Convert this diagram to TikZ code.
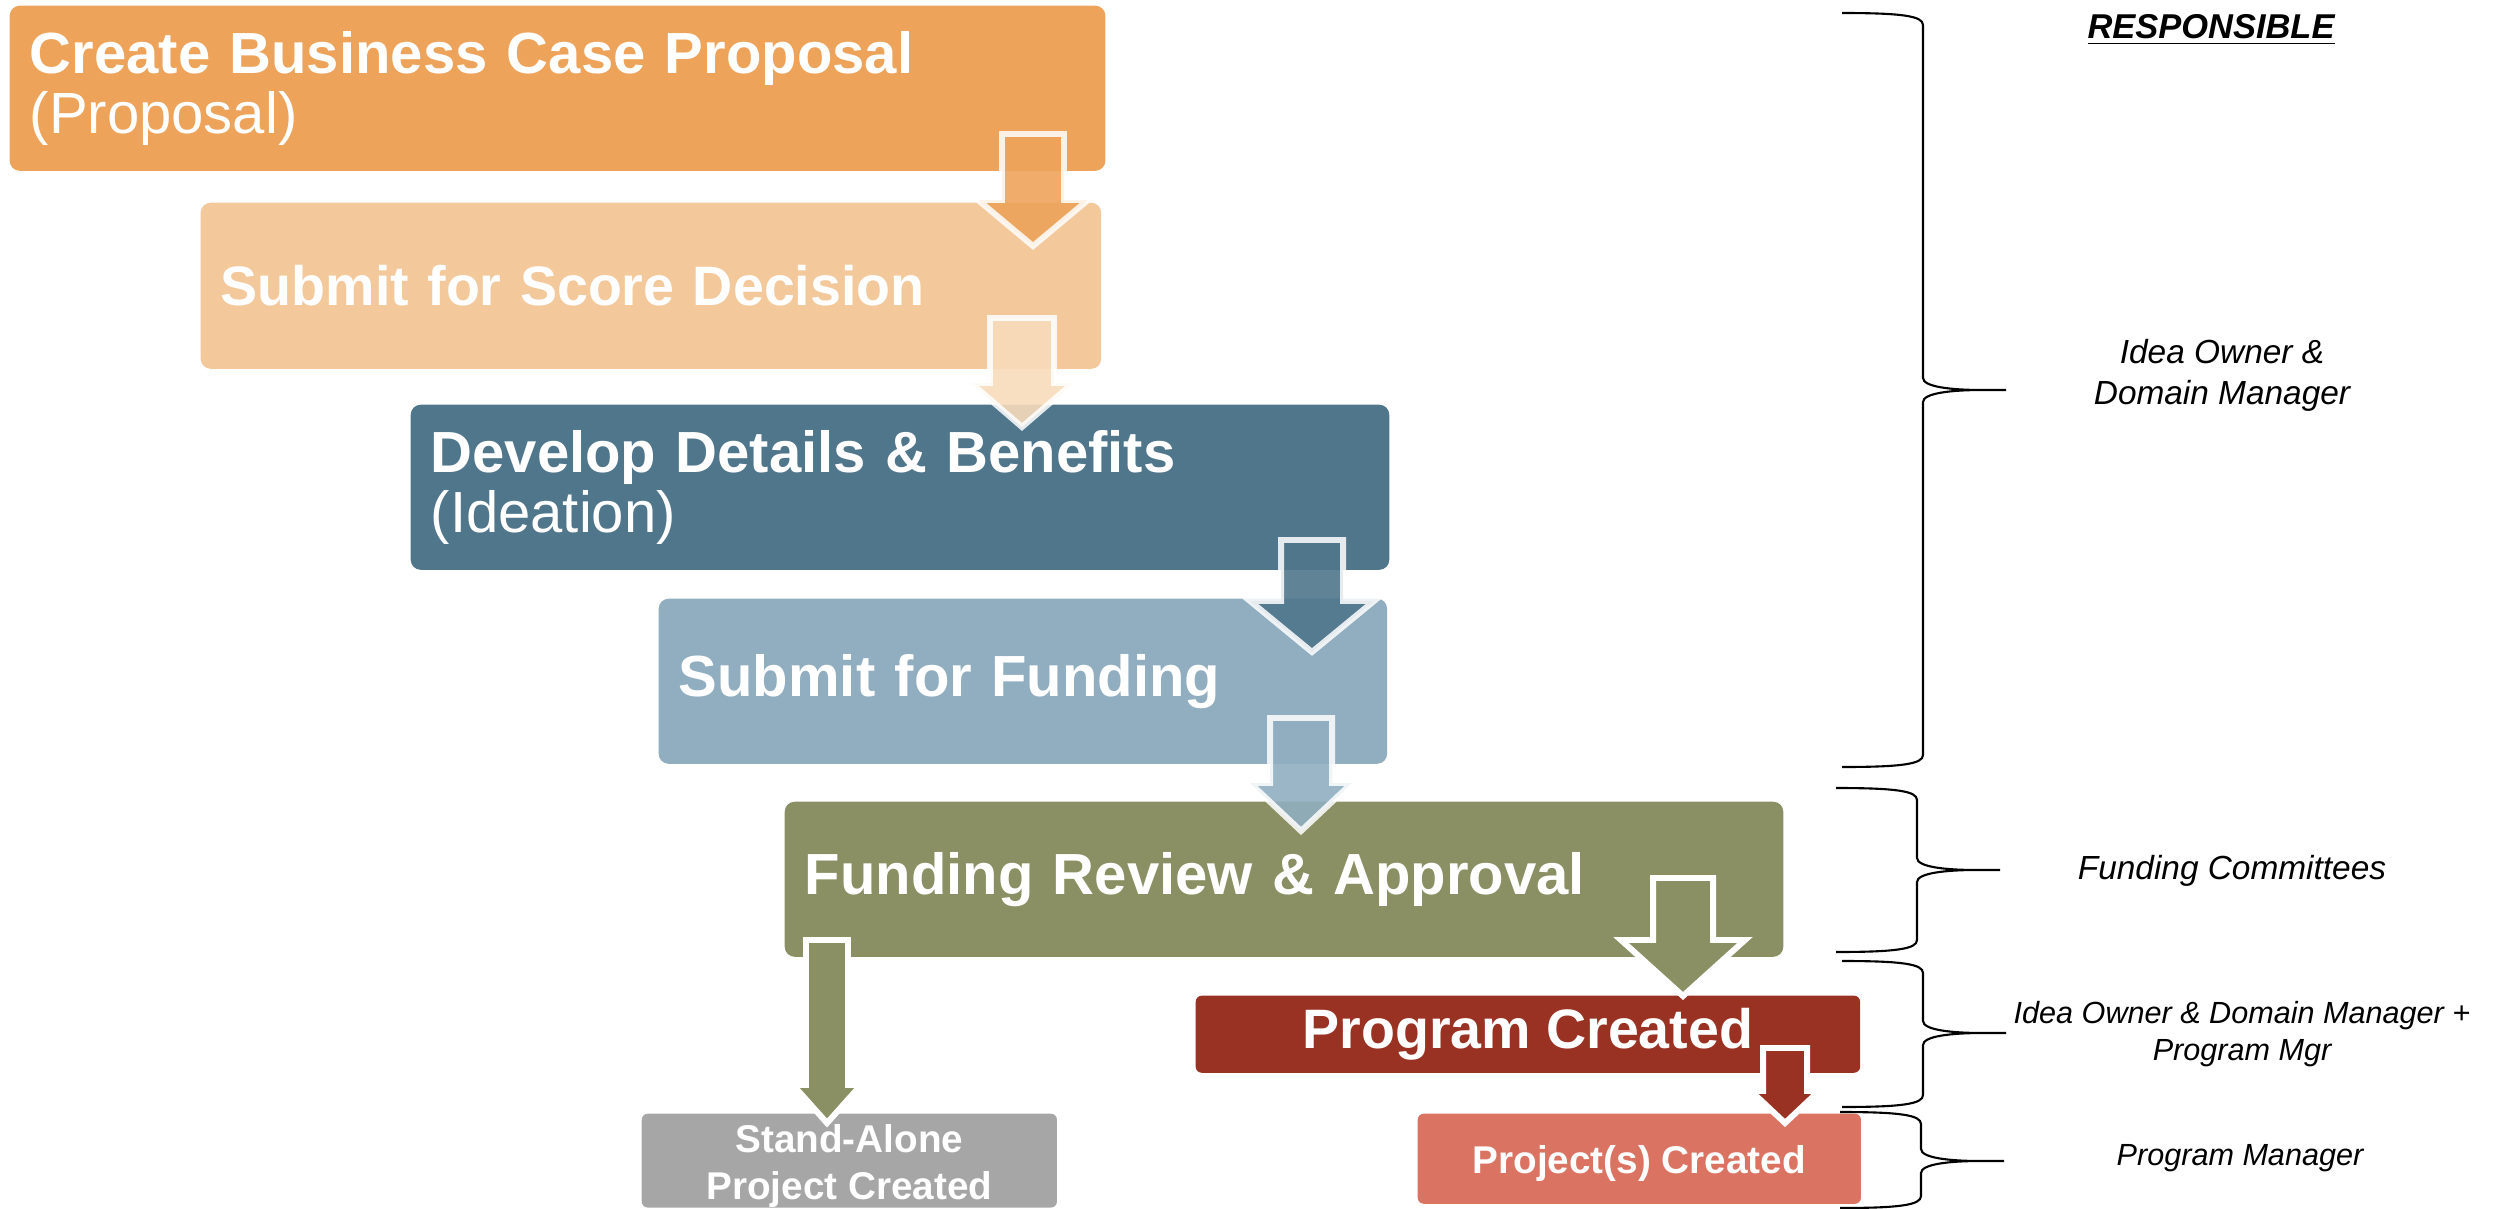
\documentclass[tikz,border=0pt]{standalone}
\usepackage{fontspec}
\setmainfont{Liberation Sans}
\usepackage{tikz}
\usetikzlibrary{calc}

\definecolor{proposalcol}{HTML}{EDA35A}
\definecolor{scorecol}{HTML}{F3C99C}
\definecolor{scorearrow}{HTML}{F8DBBB}
\definecolor{ideationcol}{HTML}{4F768B}
\definecolor{fundingcol}{HTML}{90AEC0}
\definecolor{reviewcol}{HTML}{8A9063}
\definecolor{programcol}{HTML}{9A3223}
\definecolor{standalonecol}{HTML}{A6A6A6}
\definecolor{projectcol}{HTML}{DB7362}

\tikzset{
    %Define style for boxes
    stage/.style={
        rectangle,
        rounded corners=0.1cm,
        anchor=north west,
        text=white,
        align=left,
        inner xsep=0.2cm,
        inner ysep=0pt,
        font=\fontsize{16.5}{17}\selectfont\bfseries,
    },
    outcome/.style={
        rectangle,
        rounded corners=0.06cm,
        anchor=north west,
        text=white,
        align=center,
        inner sep=0pt,
        font=\fontsize{11}{13.4}\selectfont\bfseries,
    },
    resp/.style={
        draw = none,
        align = center,
        font = \fontsize{9.5}{11.7}\selectfont\itshape,
    },
    bracket/.style={
        draw=black,
        line width=0.6pt,
    },
    fatarrow/.style={
        fill=#1,
        draw=white,
        line width=1.7pt,
    },
    faded/.style={
        fill opacity=0.9,
        draw opacity=0.85,
    },
}

% block arrow: top, tip, head length, shaft half width, head half width, style
\newcommand{\blockarr}[6]{%
  \path[#6] ($(#1)+(-#4,0)$) -- ($(#1)+(#4,0)$) -- ($(#2)+(#4,-#3)$)
    -- ($(#2)+(#5,-#3)$) -- (#2) -- ($(#2)+(-#5,-#3)$) -- ($(#2)+(-#4,-#3)$) -- cycle;
}

% curly bracket: left x, top y, bottom y, middle y
\newcommand{\respbrace}[4]{%
  \draw[bracket] (#1,#2) .. controls (#1+60,#2) and (#1+81,#2+3) .. (#1+81,#2+12)
    -- (#1+81,#4-12) .. controls (#1+81,#4-3) and (#1+110,#4) .. (#1+140,#4) -- (#1+164,#4)
    (#1+140,#4) .. controls (#1+110,#4) and (#1+81,#4+3) .. (#1+81,#4+12)
    -- (#1+81,#3-12) .. controls (#1+81,#3-3) and (#1+60,#3) .. (#1,#3);
}

\begin{document}
\begin{tikzpicture}[x=0.01cm,y=-0.01cm]
    \useasboundingbox (0,0) rectangle (2502,1209);

    % stages
    \node[stage, fill=proposalcol, minimum width=10.95cm, minimum height=1.65cm, text width=10.55cm] (proposal) at (9,5)
        {Create Business Case Proposal\\{\mdseries(Proposal)}};
    \node[stage, fill=scorecol, minimum width=9cm, minimum height=1.66cm, text width=8.6cm, font=\fontsize{15.8}{17}\selectfont\bfseries] (score) at (200,202)
        {Submit for Score Decision};
    \node[stage, fill=ideationcol, minimum width=9.78cm, minimum height=1.65cm, text width=9.38cm] (ideation) at (410,404)
        {Develop Details \& Benefits\\{\mdseries(Ideation)}};
    \node[stage, fill=fundingcol, minimum width=7.28cm, minimum height=1.65cm, text width=6.88cm] (funding) at (658,598)
        {Submit for Funding};
    \node[stage, fill=reviewcol, minimum width=9.98cm, minimum height=1.55cm, text width=9.58cm] (review) at (784,801)
        {Funding Review \& Approval};

    % outcomes
    \node[outcome, fill=programcol, minimum width=6.64cm, minimum height=0.77cm, font=\fontsize{15.8}{18}\selectfont\bfseries] (program) at (1195,995)
        {Program Created};
    \node[outcome, fill=standalonecol, minimum width=4.15cm, minimum height=0.91cm] (standalone) at (641,1113)
        {\rule{0pt}{11pt}Stand-Alone\\Project Created};
    \node[outcome, fill=projectcol, minimum width=4.43cm, minimum height=0.9cm] (projects) at (1417,1113)
        {\rule{0pt}{10.5pt}Project(s) Created};

    % arrows
    \coordinate (arr1top) at (1033,134);  \coordinate (arr1tip) at (1033,246);
    \coordinate (arr2top) at (1022,318);  \coordinate (arr2tip) at (1022,427);
    \coordinate (arr3top) at (1312,540);  \coordinate (arr3tip) at (1312,652);
    \coordinate (arr4top) at (1301,718);  \coordinate (arr4tip) at (1301,831);
    \coordinate (arr5top) at (1683,878);  \coordinate (arr5tip) at (1683,996);
    \coordinate (arr6top) at (827,940);   \coordinate (arr6tip) at (827,1123);
    \coordinate (arr7top) at (1785,1048); \coordinate (arr7tip) at (1785,1123);

    \blockarr{arr1top}{arr1tip}{46}{31}{55}{fatarrow=proposalcol, faded}
    \blockarr{arr2top}{arr2tip}{44}{32}{51}{fatarrow=scorearrow, faded}
    \blockarr{arr3top}{arr3tip}{51}{31}{62}{fatarrow=ideationcol, faded}
    \blockarr{arr4top}{arr4tip}{48}{31}{51}{fatarrow=fundingcol, faded}
    \blockarr{arr5top}{arr5tip}{56}{30}{62}{fatarrow=reviewcol}
    \blockarr{arr6top}{arr6tip}{38}{21}{34}{fatarrow=reviewcol}
    \blockarr{arr7top}{arr7tip}{32}{22}{34}{fatarrow=programcol}

    % responsibilities
    \respbrace{1842}{13}{767}{390}
    \respbrace{1836}{788}{952}{870}
    \respbrace{1842}{961}{1107}{1033}
    \respbrace{1840}{1112}{1208}{1161}

    \node[resp, anchor=base, font=\fontsize{9.8}{12}\selectfont\bfseries\itshape] (head) at (2211,38) {\underline{RESPONSIBLE}};
    \node[resp] (owner) at (2222,375) {Idea Owner \&\\Domain Manager};
    \node[resp] (committee) at (2232,871) {Funding Committees};
    \node[resp, font=\fontsize{8.7}{10.5}\selectfont\itshape] (programmgr) at (2242,1034) {Idea Owner \& Domain Manager +\\Program Mgr};
    \node[resp, font=\fontsize{8.7}{10.5}\selectfont\itshape] (projectmgr) at (2240,1158) {Program Manager};
\end{tikzpicture}
\end{document}
